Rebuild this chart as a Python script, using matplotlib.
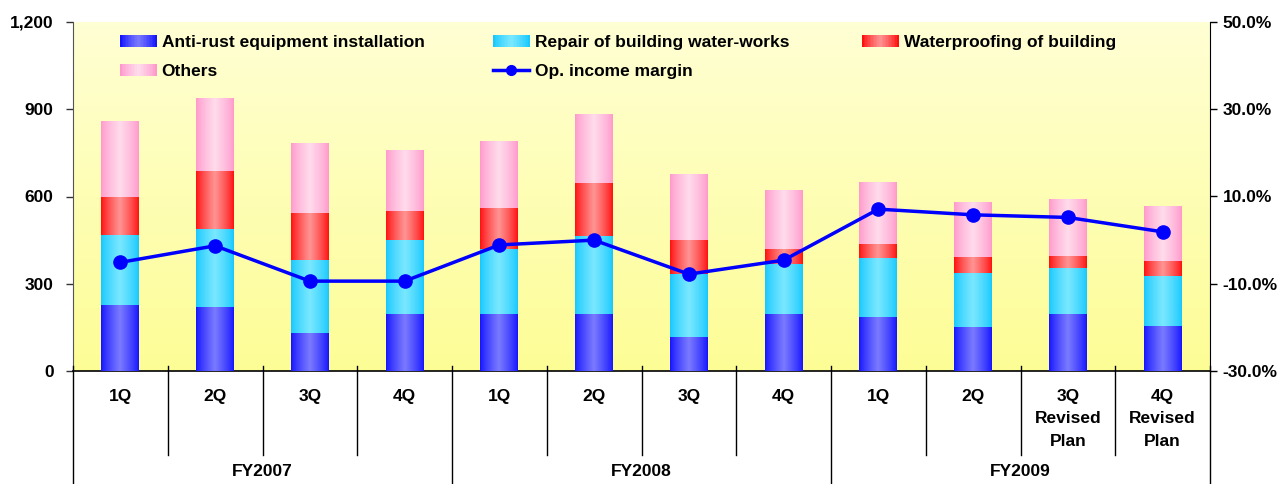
import matplotlib
matplotlib.use('Agg')
import matplotlib.pyplot as plt
import numpy as np
from matplotlib.colors import to_rgb
from matplotlib.patches import Rectangle
from matplotlib.lines import Line2D
from matplotlib.legend_handler import HandlerBase
import matplotlib.transforms as mtransforms
from matplotlib.ticker import FuncFormatter, FixedLocator

plt.rcParams['font.family'] = ['Liberation Sans', 'DejaVu Sans']
plt.rcParams['font.weight'] = 'bold'

# ---------------- data ----------------
quarters = ['1Q', '2Q', '3Q', '4Q', '1Q', '2Q', '3Q', '4Q', '1Q', '2Q',
            '3Q\nRevised\nPlan', '4Q\nRevised\nPlan']
years = ['FY2007', 'FY2008', 'FY2009']
anti_rust = [227, 220, 131, 196, 196, 196, 117, 196, 186, 151, 196, 155]
repair = [241, 268, 251, 254, 224, 268, 217, 172, 202, 186, 158, 172]
waterproof = [130, 200, 161, 100, 140, 182, 116, 52, 49, 55, 41, 51]
others = [262, 251, 241, 210, 231, 238, 227, 202, 213, 189, 196, 189]
margin = [-5.1, -1.3, -9.4, -9.4, -1.1, 0.0, -7.8, -4.6, 7.1, 5.8, 5.2, 1.9]

series_names = ['Anti-rust equipment installation', 'Repair of building water-works',
                'Waterproofing of building', 'Others']
line_name = 'Op. income margin'
left_ticks = [0, 300, 600, 900, 1200]
right_ticks = [-30, -10, 10, 30, 50]

# gradient (edge, center) colours
grads = [('#1414FF', '#7A7AFF'),
         ('#18C8FF', '#7AE8FF'),
         ('#FF1010', '#FF9494'),
         ('#FF99CC', '#FFDCEC')]

FS = 12.5
W, H = 1280, 484
fig = plt.figure(figsize=(W / 100, H / 100), dpi=100)
L, R, T, B = 73, 1210, 22, 371
ax = fig.add_axes([L / W, 1 - B / H, (R - L) / W, (B - T) / H])


def grad_img(edge, center, n=64):
    e = np.array(to_rgb(edge)); c = np.array(to_rgb(center))
    t = np.linspace(-1, 1, n)
    w = (1 - np.abs(t)) ** 0.8
    img = e[None, :] * (1 - w[:, None]) + c[None, :] * w[:, None]
    return img[None, :, :]


# background gradient
bg = np.linspace(0, 1, 100)[:, None]
top = np.array(to_rgb('#FFFFD4')); bot = np.array(to_rgb('#FDFD96'))
bgimg = top[None, None, :] * (1 - bg[:, :, None]) + bot[None, None, :] * bg[:, :, None]
ax.imshow(bgimg, extent=[0, 1, 0, 1], transform=ax.transAxes, aspect='auto', zorder=0)

x = np.arange(len(quarters))
bw = 0.4
bottom = np.zeros(len(x))
for vals, (e, c) in zip([anti_rust, repair, waterproof, others], grads):
    bars = ax.bar(x, vals, bw, bottom=bottom, color=c, linewidth=0, zorder=2)
    img = grad_img(e, c)
    for p in bars.patches:
        x0, y0 = p.get_x(), p.get_y()
        im = ax.imshow(img, extent=[x0, x0 + p.get_width(), y0, y0 + p.get_height()],
                       aspect='auto', zorder=3, interpolation='bilinear')
        im.set_clip_path(p)
    bottom = bottom + np.array(vals)

ax.set_xlim(-0.5, len(x) - 0.5)
ax.set_ylim(0, 1200)
ax.yaxis.set_major_locator(FixedLocator(left_ticks))
ax.yaxis.set_major_formatter(FuncFormatter(lambda v, p: f'{int(v):,}'))
ax.set_xticks([])
ax.tick_params(axis='y', direction='out', length=5, width=1, pad=9, labelsize=FS,
               colors='#333333', labelcolor='black')
for lab in ax.get_yticklabels():
    lab.set_fontweight('bold')
ax.spines['top'].set_visible(False)
ax.spines['right'].set_visible(False)
ax.spines['left'].set_color('#555555')
ax.spines['bottom'].set_color('black')
ax.spines['bottom'].set_linewidth(1.2)

ax2 = ax.twinx()
ax2.plot(x, margin, color='#0000FF', lw=2.5, marker='o', markersize=9.5, zorder=5)
ax2.set_ylim(-30, 50)
ax2.set_xlim(-0.5, len(x) - 0.5)
ax2.yaxis.set_major_locator(FixedLocator(right_ticks))
ax2.yaxis.set_major_formatter(FuncFormatter(lambda v, p: f'{v:.1f}%'))
ax2.tick_params(axis='y', direction='out', length=5, width=1, pad=4, labelsize=FS)
for lab in ax2.get_yticklabels():
    lab.set_fontweight('bold')
ax2.spines['top'].set_visible(False)
ax2.spines['left'].set_visible(False)
ax2.spines['bottom'].set_visible(False)
ax2.spines['right'].set_color('black')

# category axis below
blend = mtransforms.blended_transform_factory(ax.transData, fig.transFigure)
def fy(py):
    return 1 - py / H

for k in range(len(x) + 1):
    xb = k - 0.5
    if k % 4 == 0:
        y1 = fy(H + 2)
    else:
        y1 = fy(455)
    fig.add_artist(Line2D([xb, xb], [fy(366), y1], transform=blend, color='black', lw=1))

for i, q in enumerate(quarters):
    fig.text(i, fy(389), q, transform=blend, ha='center', va='top', fontsize=FS,
             fontweight='bold', linespacing=1.62)
for g, name in enumerate(years):
    fig.text(4 * g + 1.5, fy(472), name, transform=blend, ha='center', va='center',
             fontsize=FS, fontweight='bold')


# legend with gradient keys
class GradKey:
    def __init__(self, edge, center):
        self.edge, self.center = edge, center


class GradHandler(HandlerBase):
    def create_artists(self, legend, orig, xd, yd, width, height, fontsize, trans):
        img = grad_img(orig.edge, orig.center, 24)[0]
        arts = []
        n = len(img)
        for j in range(n):
            r = Rectangle((xd * -1 + width * j / n, -yd), width / n + 0.3, height,
                          facecolor=img[j], edgecolor='none', transform=trans)
            arts.append(r)
        return arts


keys = [GradKey(e, c) for e, c in grads]
line_key = Line2D([], [], color='#0000FF', lw=2.5, marker='o', markersize=7)
hmap = {GradKey: GradHandler()}

cols = [([keys[0], keys[3]], [series_names[0], series_names[3]], 120),
        ([keys[1], line_key], [series_names[1], line_name], 493),
        ([keys[2]], [series_names[2]], 862)]
for hs, ls, px in cols:
    leg = fig.legend(hs, ls, loc='upper left', bbox_to_anchor=(px / W, fy(35)),
                     frameon=False, borderpad=0, borderaxespad=0, handlelength=2.1,
                     handleheight=0.65, handletextpad=0.3, labelspacing=0.8,
                     prop={'size': FS, 'weight': 'bold'}, handler_map=hmap)

fig.savefig('out.png', dpi=100)
